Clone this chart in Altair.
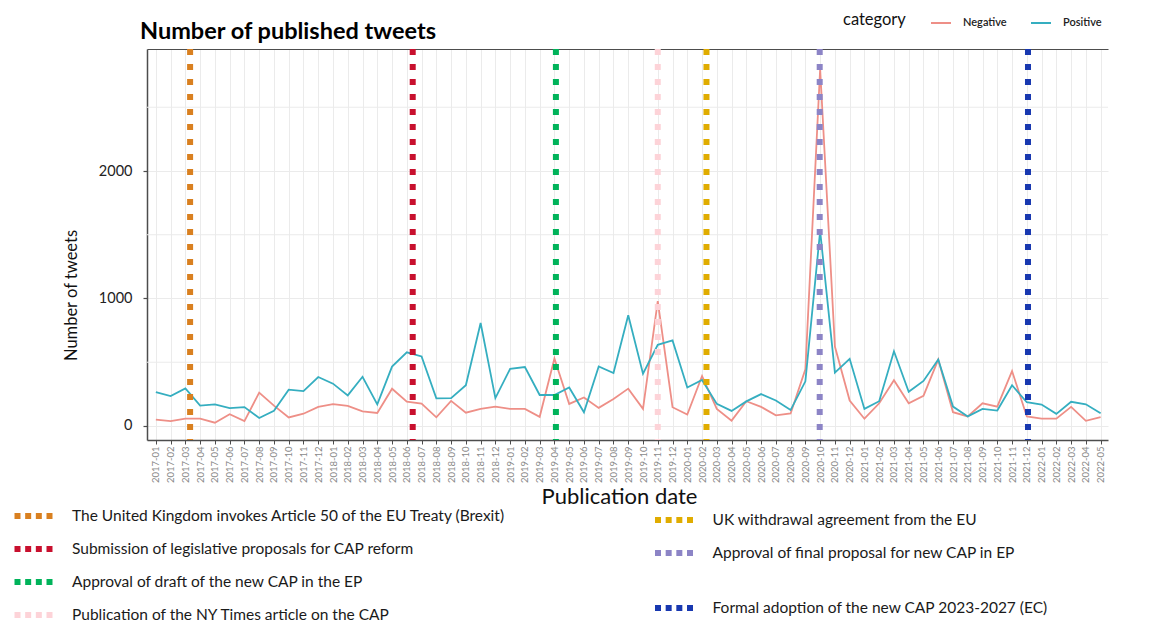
import altair as alt
import pandas as pd

FONT = "Lato"

# ---- data ----
months = [f"{y}-{m:02d}" for y in range(2017, 2023) for m in range(1, 13)][:65]

negative = [50, 38, 58, 58, 26, 92, 38, 262, 160, 67, 96, 150,
            172, 158, 114, 102, 292, 190, 176, 68, 197, 104, 134, 152,
            134, 134, 72, 529, 173, 224, 142, 212, 293, 134, 980, 147,
            90, 392, 134, 42, 194, 150, 83, 98, 445, 2800, 623, 199,
            57, 178, 359, 178, 237, 521, 108, 75, 178, 152, 431, 75,
            57, 57, 150, 40, 70]

positive = [265, 234, 295, 160, 170, 140, 148, 62, 119, 285, 274, 384,
            332, 240, 386, 170, 466, 578, 545, 217, 218, 320, 808, 219,
            449, 462, 243, 243, 302, 108, 467, 415, 869, 410, 637, 671,
            302, 361, 173, 118, 193, 250, 200, 125, 350, 1530, 418, 527,
            134, 194, 586, 268, 353, 521, 152, 75, 134, 121, 320, 186,
            168, 95, 190, 170, 100]

categories = ["Negative", "Positive"]
category_colors = ["#EE8F87", "#35AEC0"]

y_ticks = [0, 1000, 2000]
y_minor_grid = [500, 1500, 2500]

# events (position in month-index units)
events_left = ["The United Kingdom invokes Article 50 of the EU Treaty (Brexit)",
               "Submission of legislative proposals for CAP reform",
               "Approval of draft of the new CAP in the EP",
               "Publication of the NY Times article on the CAP"]
events_left_pos = [2.32, 17.4, 27.1, 34.0]
events_left_colors = ["#D98020", "#C8102E", "#00B35A", "#FDD3D8"]

events_right_a = ["UK withdrawal agreement from the EU",
                  "Approval of final proposal for new CAP in EP"]
events_right_a_pos = [37.3, 44.97]
events_right_a_colors = ["#E0AC00", "#8C84C6"]

events_right_b = ["Formal adoption of the new CAP 2023-2027 (EC)"]
events_right_b_pos = [59.08]
events_right_b_colors = ["#1838B0"]

# ---- build ----
df = pd.DataFrame({
    "idx": list(range(len(months))) * 2,
    "category": ["Negative"] * len(months) + ["Positive"] * len(months),
    "tweets": negative + positive,
})

xscale = alt.Scale(domain=[-0.6, 64.5], nice=False, zero=False)
yscale = alt.Scale(domain=[-110, 2957], nice=False, zero=False)

label_expr = "[" + ",".join(f"'{m}'" for m in months) + "][datum.value]"

y_axis = alt.Axis(
    values=y_ticks, format="d",
    tickSize=4, tickWidth=1.2, tickColor="#4d4d4d",
    labelFont=FONT, labelFontSize=14.5, labelColor="#222222",
    labelPadding=11, domainColor="#4d4d4d", domainWidth=1.5, grid=True,
    gridColor="#ebebeb", gridWidth=1, title="Number of tweets", titleFont=FONT,
    titleFontSize=16.5, titleFontWeight="normal", titleColor="#111111",
    titlePadding=19, titleY=246)

minor_grid = alt.Chart(pd.DataFrame({"tweets": y_minor_grid})).mark_rule(
    color="#ebebeb", strokeWidth=1
).encode(
    y=alt.Y("tweets:Q", scale=yscale, axis=y_axis),
)

lines = alt.Chart(df).mark_line(strokeWidth=1.8).encode(
    x=alt.X("idx:Q", scale=xscale, axis=alt.Axis(
        values=list(range(len(months))), labelExpr=label_expr, labelAngle=270,
        labelOverlap=False, labelFont=FONT, labelFontSize=9.5, labelColor="#8a8a8a",
        labelPadding=2, tickSize=4, tickColor="#4d4d4d", tickWidth=1,
        domainColor="#4d4d4d", domainWidth=1.5, grid=True, gridColor="#ebebeb",
        gridWidth=1, title="Publication date", titleFont=FONT, titleFontSize=22,
        titleFontWeight="normal", titleColor="#111111", titlePadding=4,
        titleX=472)),
    y=alt.Y("tweets:Q", scale=yscale, axis=y_axis),
    color=alt.Color("category:N", scale=alt.Scale(domain=categories, range=category_colors),
                    legend=alt.Legend(
                        title="category", orient="none", legendX=696, legendY=-37,
                        direction="horizontal", titleOrient="left", titleFont=FONT,
                        titleFontSize=16.5, titleFontWeight="normal", titleColor="#111111",
                        titlePadding=24, titleBaseline="middle", titleAnchor="middle",
                        labelFont=FONT, labelFontSize=11, labelFontWeight=600,
                        labelColor="#222222",
                        symbolType="stroke", symbolSize=400, symbolStrokeWidth=2,
                        labelOffset=11, columnPadding=20, padding=0)),
)

frame_top = alt.Chart(df).mark_point(opacity=0).encode(
    x=alt.X("idx:Q", scale=xscale, axis=alt.Axis(
        orient="top", labels=False, ticks=False, grid=False, title=None,
        domainColor="#4d4d4d", domainWidth=1.2)),
)

SYMBOL = "M-1.407,0L-0.963,0M-0.617,0L-0.173,0M0.173,0L0.617,0M0.963,0L1.407,0"


def event_layer(names, positions, colors, lx, ly):
    d = pd.DataFrame({"event": names, "pos": positions})
    return alt.Chart(d).mark_rule(strokeWidth=6, strokeDash=[6, 9], strokeCap="butt").encode(
        x=alt.X("pos:Q", scale=xscale, axis=None),
        color=alt.Color("event:N", scale=alt.Scale(domain=names, range=colors),
                        legend=alt.Legend(
                            title=None, orient="none", legendX=lx, legendY=ly,
                            direction="vertical", symbolType=SYMBOL, symbolSize=27 * 27,
                            symbolStrokeWidth=6, labelFont=FONT, labelFontSize=15.5,
                            labelColor="#1a1a1a", labelOffset=22, labelLimit=700,
                            rowPadding=4, padding=0)),
    )


ev_left = event_layer(events_left, events_left_pos, events_left_colors, -130, 450.5)
ev_right_a = event_layer(events_right_a, events_right_a_pos, events_right_a_colors, 510.5, 454.5)
ev_right_b = event_layer(events_right_b, events_right_b_pos, events_right_b_colors, 510.5, 542.5)

chart = alt.layer(minor_grid, lines, frame_top, ev_left, ev_right_a, ev_right_b).resolve_scale(
    color="independent"
).resolve_axis(
    x="independent"
).properties(
    width=961, height=391,
    autosize=alt.AutoSizeParams(type="none"),
    padding={"left": 147, "top": 49, "right": 61, "bottom": 182},
    background="white",
    title=alt.TitleParams("Number of published tweets", anchor="start", frame="group",
                          font=FONT, fontSize=23.5, fontWeight="bold", color="#000000",
                          dx=-7, dy=62, offset=12, baseline="alphabetic"),
).configure_view(stroke=None)

chart.save("out.html", embed_options={"renderer": "svg", "actions": False})
